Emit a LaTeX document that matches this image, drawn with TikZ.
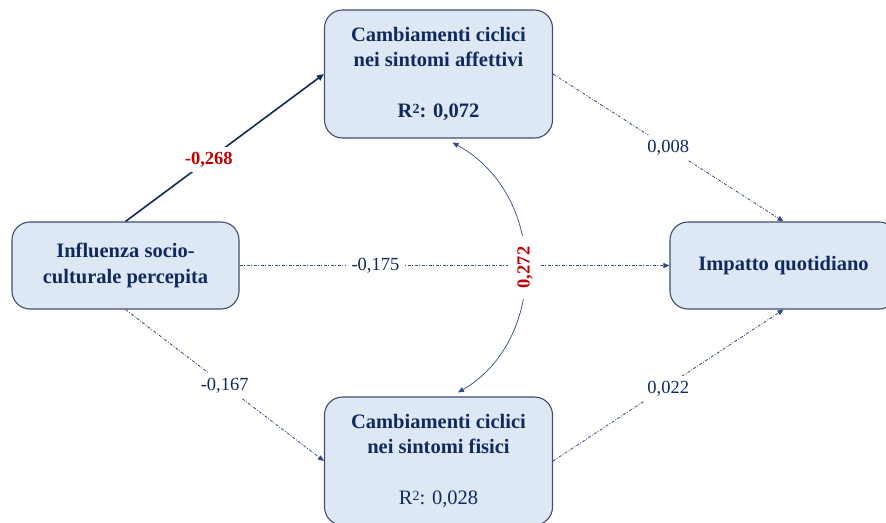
\documentclass[tikz,border=0pt]{standalone}
\usepackage{fontspec}
\setmainfont{Liberation Serif}
\usetikzlibrary{arrows.meta,calc}
\definecolor{navy}{HTML}{102A60}
\definecolor{boxfill}{HTML}{DEE8F5}
\definecolor{boxline}{HTML}{3E4E6E}
\definecolor{pathred}{HTML}{C00000}
\definecolor{thinpath}{HTML}{2E4A86}
% R squared with a large raised 2
\newcommand{\rsq}{R\raisebox{0.45ex}{\fontsize{14}{14}\selectfont 2}}
\begin{document}
\begin{tikzpicture}[x=1pt,y=-1pt,
  varbox/.style={draw=boxline, line width=1.1pt, fill=boxfill, rounded corners=18pt,
    align=center, text=navy, font=\fontsize{20.5}{25.5}\selectfont\bfseries, inner sep=0pt},
  effect/.style={draw=thinpath, line width=0.8pt,
    dash pattern=on 3pt off 1.6pt on 0.8pt off 1.6pt,
    -{Triangle[length=6pt,width=5pt]}},
  strong/.style={draw=navy, line width=1.6pt, -{Triangle[length=7pt,width=6pt]}},
  coef/.style={fill=white, inner xsep=6pt, inner ysep=5pt, text=navy, font=\fontsize{18.5}{20}\selectfont},
  keycoef/.style={fill=white, inner xsep=6pt, inner ysep=5pt, text=pathred, font=\fontsize{18.5}{20}\selectfont\bfseries}
]
\useasboundingbox (0,0) rectangle (886,522);
\clip (0,0) rectangle (886,522);

% variables
\node[varbox, minimum width=228pt, minimum height=128pt] (A) at (438.5,74)
  {Cambiamenti ciclici\\nei sintomi affettivi\\[25.5pt]\rsq: 0,072};
\node[varbox, minimum width=227pt, minimum height=87pt] (I) at (125.5,265.5)
  {Influenza socio-\\culturale percepita};
\node[varbox, minimum width=228pt, minimum height=128pt] (F) at (438.5,461)
  {Cambiamenti ciclici\\nei sintomi fisici\\[25.5pt]\mdseries \rsq: 0,028};
\node[varbox, minimum width=227pt, minimum height=87pt] (Q) at (783.5,265.5)
  {Impatto quotidiano};

% paths
\draw[strong] (I.north) -- (A.west) node[keycoef, pos=0.42] {-0,268};
\draw[effect] (A.east) -- (Q.north) node[coef, pos=0.5] {0,008};
\draw[effect] (I.south) -- (F.west) node[coef, pos=0.5] {-0,167};
\draw[effect] (F.east) -- (Q.south) node[coef, pos=0.5, yshift=-3pt] {0,022};
\draw[effect] (I.east) -- (Q.west) node[coef, pos=0.316] {-0,175};

% residual covariance
\coordinate (covtop) at ([xshift=14pt,yshift=-4pt]A.south);
\coordinate (covbot) at ([xshift=19.5pt,yshift=4pt]F.north);
\draw[draw=thinpath, line width=0.7pt,
  {Triangle[length=6pt,width=5pt]}-{Triangle[length=6pt,width=5pt]}]
  (covtop) .. controls (548,195) and (548,340) .. (covbot)
  node[keycoef, pos=0.5, rotate=90, inner xsep=11pt, inner ysep=9pt] {0,272};
\end{tikzpicture}
\end{document}
